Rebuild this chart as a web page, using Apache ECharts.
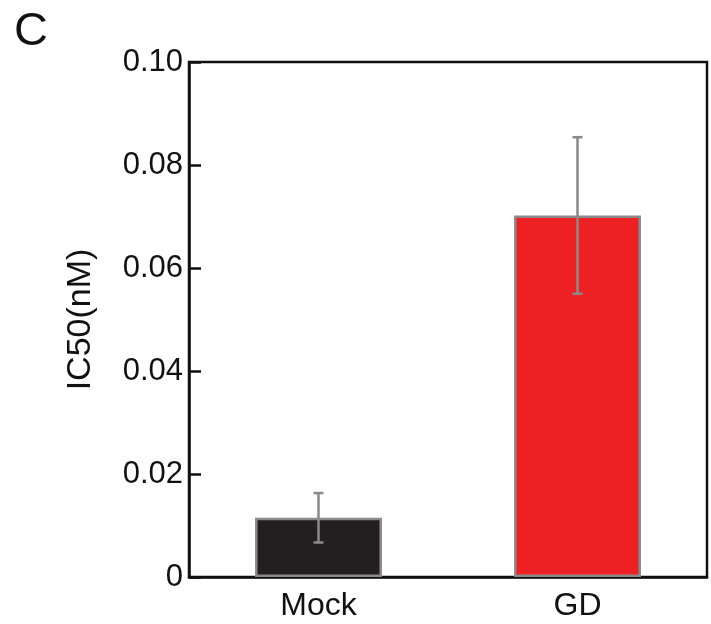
<!DOCTYPE html>
<html>
<head>
<meta charset="utf-8">
<script src="https://cdn.jsdelivr.net/npm/echarts@6/dist/echarts.min.js"></script>
<style>
html,body{margin:0;padding:0;background:#fff;}
#c{width:711px;height:624px;}
</style>
</head>
<body>
<div id="c"></div>
<script>
const categories = ['Mock', 'GD'];
const means = [0.0115, 0.0702];
const errors = [0.0048, 0.0152];
const barColors = ['#231f20', '#ed2024'];
const yTicks = [0, 0.02, 0.04, 0.06, 0.08, 0.10];

const FONT = 'Liberation Sans, Arial, Helvetica, sans-serif';
const chart = echarts.init(document.getElementById('c'), null, {renderer: 'canvas'});

const option = {
  backgroundColor: '#fff',
  animation: false,
  title: {
    text: 'C', left: 9, top: 4,
    textStyle: {fontFamily: FONT, fontSize: 47, fontWeight: 'normal', color: '#111'}
  },
  grid: {
    left: 189, right: 4, top: 62, bottom: 47,
    show: true, borderColor: '#111', borderWidth: 2.5, backgroundColor: 'transparent'
  },
  xAxis: {
    type: 'category', data: categories,
    axisLine: {show: true, lineStyle: {color: '#111', width: 2.5}},
    axisTick: {show: false},
    axisLabel: {fontFamily: FONT, fontSize: 32, color: '#111', margin: 13},
    splitLine: {show: false}
  },
  yAxis: {
    type: 'value', min: 0, max: 0.1, interval: 0.02,
    name: 'IC50(nM)', nameLocation: 'middle', nameGap: 91,
    nameTextStyle: {fontFamily: FONT, fontSize: 34, color: '#111'},
    axisLine: {show: true, lineStyle: {color: '#111', width: 2.5}},
    axisTick: {show: true, inside: true, length: 12, lineStyle: {color: '#111', width: 2.5}},
    axisLabel: {
      fontFamily: FONT, fontSize: 31, color: '#111', margin: 6,
      formatter: v => (Math.abs(v) < 1e-9 ? '0' : v.toFixed(2))
    },
    splitLine: {show: false}
  },
  series: [
    {
      type: 'bar',
      barWidth: '49%',
      data: means.map((v, i) => ({
        value: v,
        itemStyle: {color: barColors[i], borderColor: '#8a8a8a', borderWidth: 2.5}
      }))
    },
    {
      type: 'custom',
      data: means.map((v, i) => [i, v - errors[i], v + errors[i]]),
      renderItem: function (params, api) {
        const lo = api.coord([api.value(0), api.value(1)]);
        const hi = api.coord([api.value(0), api.value(2)]);
        const cw = 10;
        const style = {stroke: '#8a8a8a', lineWidth: 2.5};
        return {
          type: 'group',
          children: [
            {type: 'line', shape: {x1: lo[0], y1: lo[1], x2: hi[0], y2: hi[1]}, style},
            {type: 'line', shape: {x1: hi[0] - cw / 2, y1: hi[1], x2: hi[0] + cw / 2, y2: hi[1]}, style},
            {type: 'line', shape: {x1: lo[0] - cw / 2, y1: lo[1], x2: lo[0] + cw / 2, y2: lo[1]}, style}
          ]
        };
      },
      z: 10
    }
  ]
};
chart.setOption(option);
</script>
</body>
</html>
